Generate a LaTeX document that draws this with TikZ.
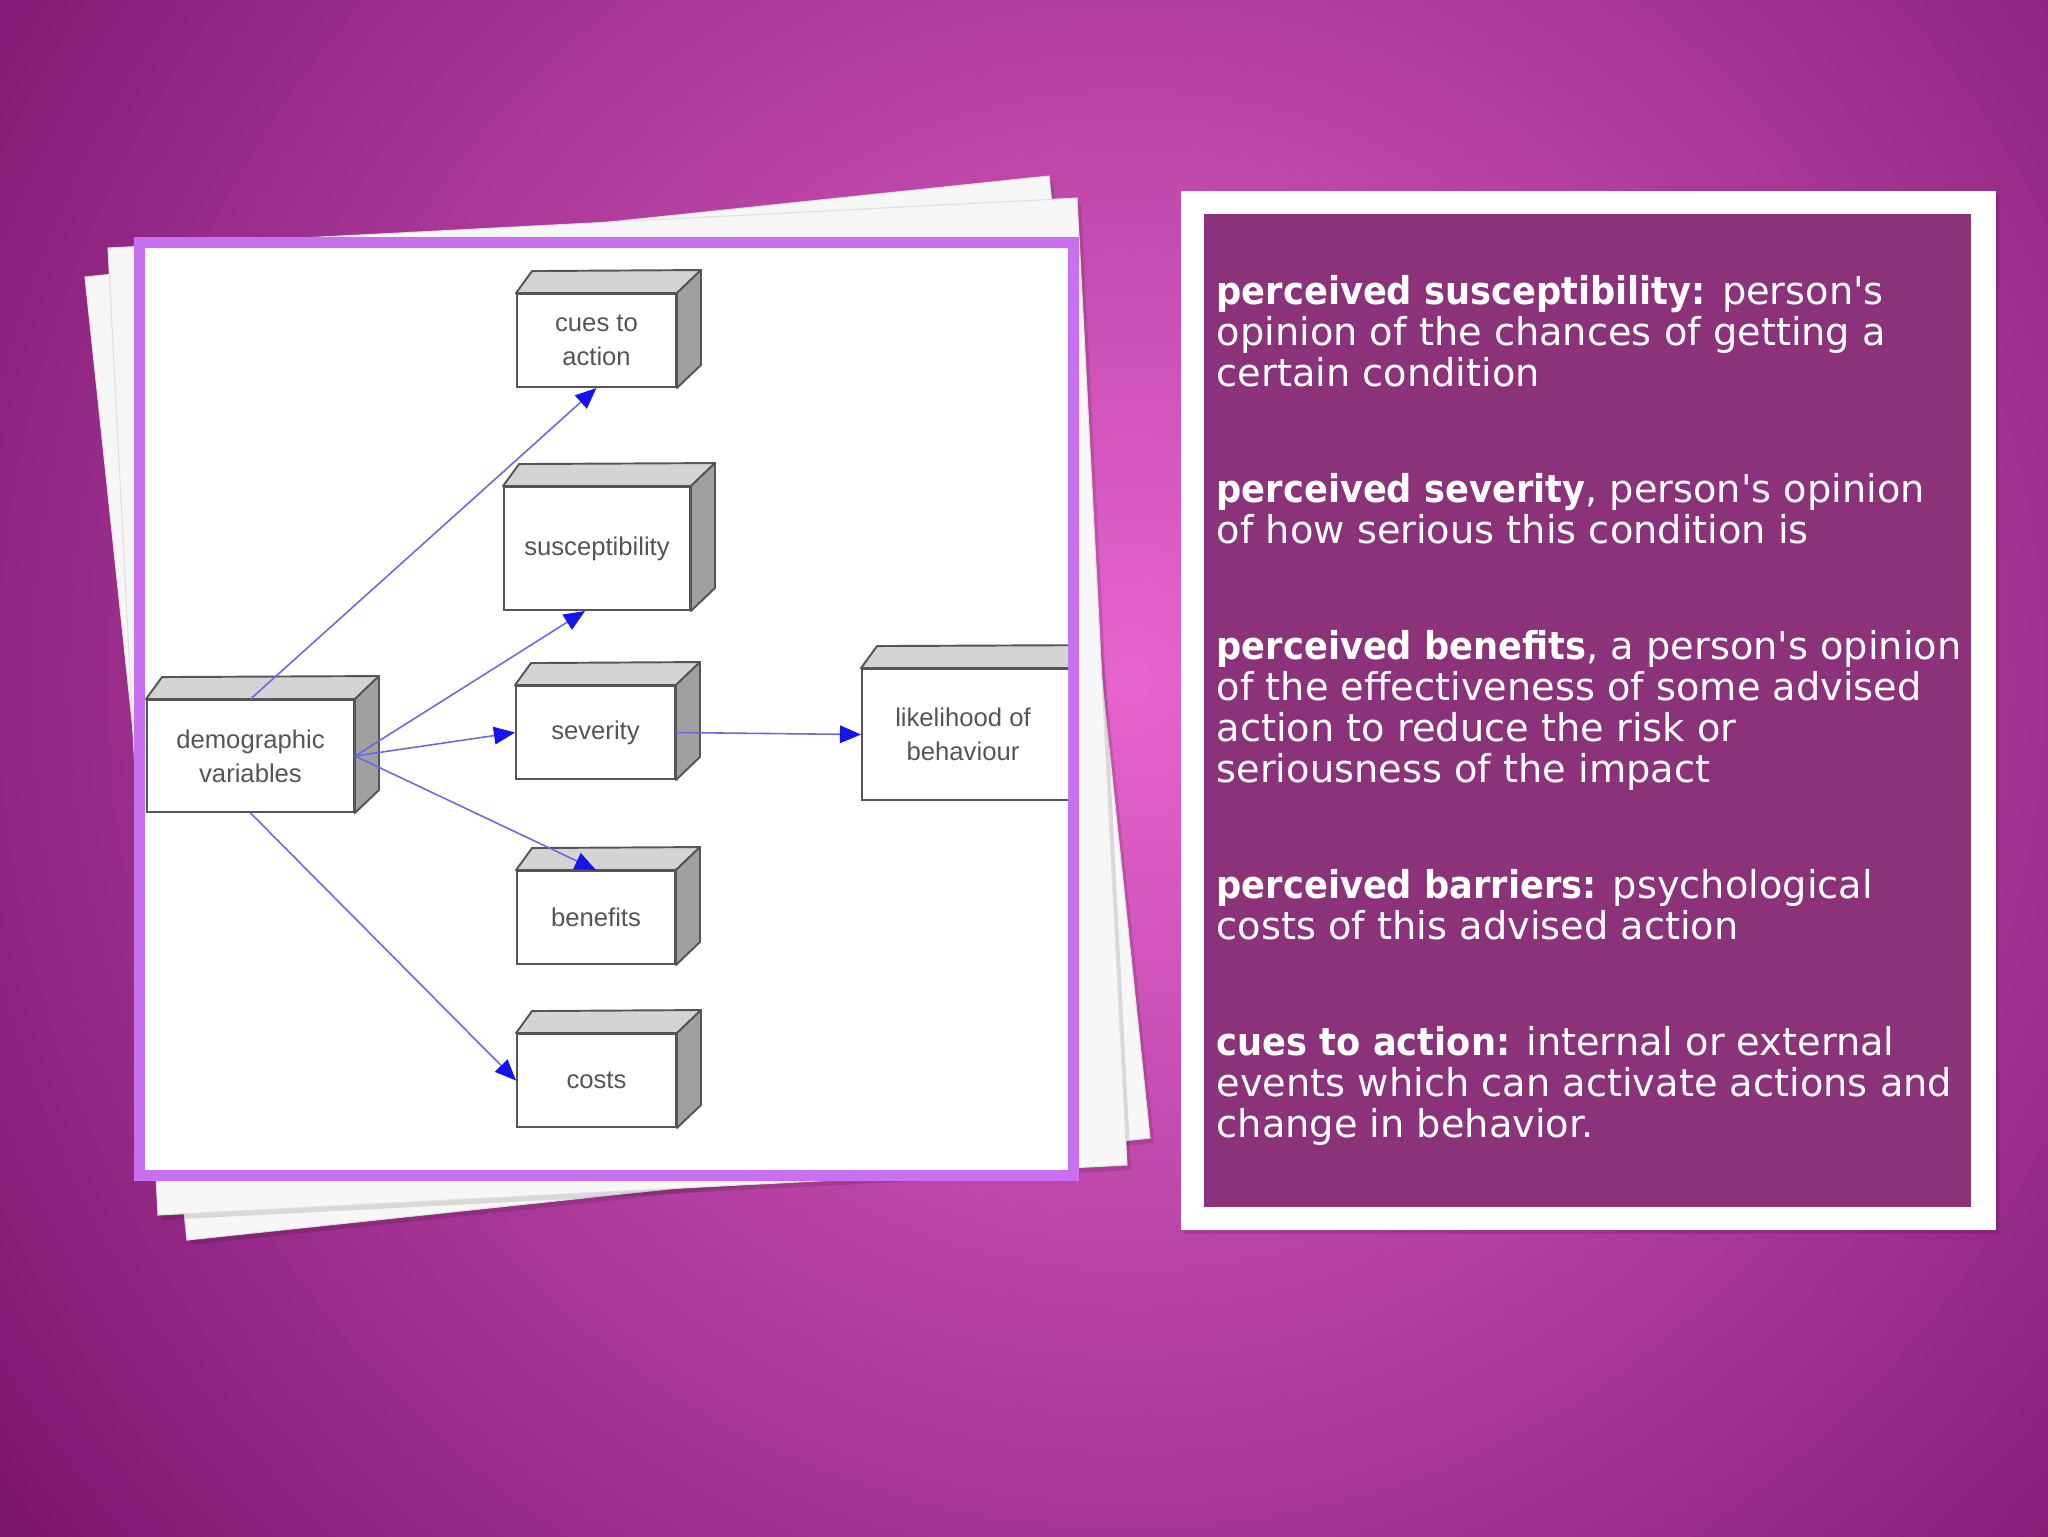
\documentclass[tikz,border=0pt]{standalone}
\usepackage{fontspec}
\newfontfamily\panelfont{DejaVu Sans}[BoldFeatures={FakeStretch=0.92}]
\newfontfamily\boxfont{Liberation Sans}
\usetikzlibrary{arrows.meta,calc}
\definecolor{bgdark}{RGB}{120,20,108}
\definecolor{bgpink}{RGB}{230,100,205}
\definecolor{framepurple}{RGB}{200,112,240}
\definecolor{panelpurple}{RGB}{140,50,122}
\definecolor{boxedge}{RGB}{85,85,85}
\definecolor{boxtop}{RGB}{212,212,212}
\definecolor{boxside}{RGB}{160,160,160}
\definecolor{boxtext}{RGB}{85,85,85}
\definecolor{linkblue}{RGB}{105,105,230}
\definecolor{tipblue}{RGB}{20,20,235}
\newcommand\cubefaces[1]{%
  \draw[topface] (#1.north west) -- ++(16,-22) -- ($(#1.north east)+(24,-23)$) -- (#1.north east) -- cycle;
  \draw[sideface] (#1.north east) -- ++(24,-23) -- ($(#1.south east)+(24,-23)$) -- (#1.south east) -- cycle;}
\begin{document}
\begin{tikzpicture}[x=0.1mm,y=-0.1mm,
  cube/.style={draw=boxedge, line width=0.55pt, fill=white, inner sep=0pt, align=center,
    font=\boxfont\fontsize{7.3pt}{9.7pt}\selectfont, text=boxtext},
  topface/.style={draw=boxedge, line width=0.55pt, fill=boxtop, line join=round},
  sideface/.style={draw=boxedge, line width=0.55pt, fill=boxside, line join=round},
  link/.style={draw=linkblue, line width=0.45pt, -{Triangle[length=6pt,width=5pt,color=tipblue]}},
  sheet/.style={fill=white!97!black, draw=black!12, line width=0.3pt},
  shadow/.style={fill=black, opacity=0.12},
  paneltext/.style={anchor=base west, inner sep=0pt, text=white,
    font=\panelfont\fontsize{10.9pt}{11.6pt}\selectfont}
]
% background
\useasboundingbox (0,0) rectangle (2048,1536);
\begin{scope}
  \clip (-10,-10) rectangle (2058,1546);
  \fill[bgdark] (-10,-10) rectangle (2058,1546);
  \shade[inner color=bgpink, outer color=bgdark] (1130,680) circle [radius=1450];
\end{scope}

% stacked sheets
\fill[shadow, shift={(4,5)}] (85,277) -- (1049,176) -- (1150,1138) -- (187,1240) -- cycle;
\path[sheet] (85,277) -- (1049,176) -- (1150,1138) -- (187,1240) -- cycle;
\fill[shadow, shift={(4,5)}] (108,248) -- (1077,198) -- (1127,1165) -- (158,1215) -- cycle;
\path[sheet] (108,248) -- (1077,198) -- (1127,1165) -- (158,1215) -- cycle;

% framed picture
\fill[framepurple] (134,237) rectangle (1079,1181);
\fill[white] (145,248) rectangle (1068,1170);

\begin{scope}
  \clip (145,248) rectangle (1068,1170);
  \node[cube, minimum width=15.9mm, minimum height=9.3mm] (cues) at (596.5,340.5) {cues to\\action};
  \node[cube, minimum width=18.6mm, minimum height=12.3mm] (susc) at (597,548.5) {susceptibility};
  \node[cube, minimum width=15.9mm, minimum height=9.3mm] (sev) at (595.5,732.5) {severity};
  \node[cube, minimum width=21.8mm, minimum height=13.1mm] (lik) at (971,734.5) {likelihood of\hspace*{1.6mm}\\behaviour\hspace*{1.6mm}};
  \node[cube, minimum width=20.7mm, minimum height=11.2mm] (demo) at (250.5,756) {demographic\\variables};
  \node[cube, minimum width=15.8mm, minimum height=9.3mm] (ben) at (596,917.5) {benefits};
  \node[cube, minimum width=15.9mm, minimum height=9.3mm] (costs) at (596.5,1080.5) {costs};
  \cubefaces{cues}
  \cubefaces{susc}
  \cubefaces{sev}
  \cubefaces{lik}
  \cubefaces{demo}
  \cubefaces{ben}
  \cubefaces{costs}
  \coordinate (suscin) at ($(susc.south)+(-12,0)$);
  \draw[link] (demo.north) -- (cues.south);
  \draw[link] (demo.east) -- (suscin);
  \draw[link] (demo.east) -- (sev.west);
  \draw[link] (demo.east) -- (ben.north);
  \draw[link] (demo.south) -- (costs.west);
  \draw[link] (sev.east) -- (lik.west);
\end{scope}

% text panel
\fill[shadow, shift={(3,4)}] (1181,191) rectangle (1996,1230);
\fill[white] (1181,191) rectangle (1996,1230);
\fill[panelpurple] (1204,214) rectangle (1971,1207);

\node[paneltext] (l1) at (1216,304) {{\bfseries perceived susceptibility:} person's};
\node[paneltext] (l2) at (1216,345) {opinion of the chances of getting a};
\node[paneltext] (l3) at (1216,386) {certain condition};
\node[paneltext] (l4) at (1216,502) {{\bfseries perceived severity}, person's opinion};
\node[paneltext] (l5) at (1216,543) {of how serious this condition is};
\node[paneltext] (l6) at (1216,659) {{\bfseries perceived benefits}, a person's opinion};
\node[paneltext] (l7) at (1216,700) {of the effectiveness of some advised};
\node[paneltext] (l8) at (1216,741) {action to reduce the risk or};
\node[paneltext] (l9) at (1216,782) {seriousness of the impact};
\node[paneltext] (l10) at (1216,898) {{\bfseries perceived barriers:} psychological};
\node[paneltext] (l11) at (1216,939) {costs of this advised action};
\node[paneltext] (l12) at (1216,1055) {{\bfseries cues to action:} internal or external};
\node[paneltext] (l13) at (1216,1096) {events which can activate actions and};
\node[paneltext] (l14) at (1216,1137) {change in behavior.};
\end{tikzpicture}
\end{document}
